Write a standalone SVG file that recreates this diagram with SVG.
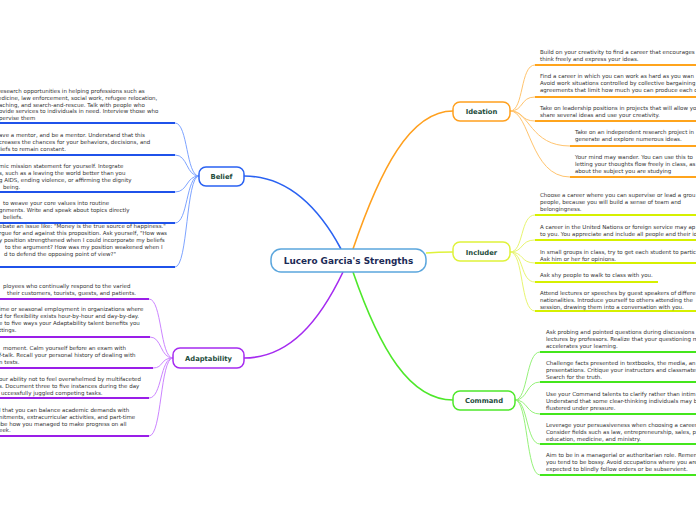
<svg xmlns="http://www.w3.org/2000/svg" width="696" height="520" viewBox="0 0 696 520">
<style>
.t{font-family:"DejaVu Sans",Verdana,sans-serif;font-size:5.5px;fill:#333}
.nl{font-family:"DejaVu Sans",Verdana,sans-serif;font-size:6.8px;font-weight:bold;fill:#1e4d3c;text-anchor:middle}
.cl{font-family:"DejaVu Sans",Verdana,sans-serif;font-size:8.9px;font-weight:bold;fill:#1b2a56;text-anchor:middle}
.n{fill:#fff;stroke-width:1.5}
.c{fill:none;stroke-width:1}
.u{fill:none;stroke-width:1.8}
.m{fill:none;stroke-width:1.6}
</style>
<rect width="696" height="520" fill="#fff"/>
<g id="connectors">
<!-- main branches -->
<path class="m" stroke="#2a62f2" d="M341,249 C320,210 290,176 244,176"/>
<path class="m" stroke="#ffa01e" d="M353,249 C380,170 410,111 453,111"/>
<path class="m" stroke="#dff23a" d="M426,253 C438,252 442,252 453,252"/>
<path class="m" stroke="#a52bf0" d="M343,272 C320,320 290,358 244,358"/>
<path class="m" stroke="#4ee82a" d="M353,272 C380,350 410,400 453,400"/>
<!-- Belief -->
<g stroke="#7ea4ff">
<path class="c" d="M199,176 C186,176 188,123 175,123"/>
<path class="c" d="M199,176 C186,176 188,155 175,155"/>
<path class="c" d="M199,176 C186,176 188,192 175,192"/>
<path class="c" d="M199,176 C186,176 188,223 175,223"/>
<path class="c" d="M199,176 C186,176 188,267 175,267"/>
</g>
<g stroke="#1f52ea">
<path class="u" d="M0,123 H175"/>
<path class="u" d="M0,155 H175"/>
<path class="u" d="M0,192 H175"/>
<path class="u" d="M0,223 H175"/>
<path class="u" d="M0,267 H175"/>
</g>
<!-- Ideation -->
<g stroke="#ffc46e">
<path class="c" d="M510,111 C524,111 520,65 535,65"/>
<path class="c" d="M510,111 C524,111 520,97 535,97"/>
<path class="c" d="M510,111 C524,111 520,121 535,121"/>
<path class="c" d="M510,111 C530,111 530,146 570,146"/>
<path class="c" d="M510,111 C530,111 530,177 570,177"/>
</g>
<g stroke="#ffa41c">
<path class="u" d="M535,65 H696"/>
<path class="u" d="M535,97 H696"/>
<path class="u" d="M535,121 H696"/>
<path class="u" d="M570,146 H696"/>
<path class="u" d="M570,177 H696"/>
</g>
<!-- Includer -->
<g stroke="#e8f570">
<path class="c" d="M510,252 C524,252 520,215 535,215"/>
<path class="c" d="M510,252 C524,252 520,240 535,240"/>
<path class="c" d="M510,252 C524,252 520,263 535,263"/>
<path class="c" d="M510,252 C524,252 520,282 535,282"/>
<path class="c" d="M510,252 C524,252 520,311 535,311"/>
</g>
<g stroke="#d6f000">
<path class="u" d="M535,215 H696"/>
<path class="u" d="M535,240 H696"/>
<path class="u" d="M535,263 H696"/>
<path class="u" d="M535,282 H658"/>
<path class="u" d="M535,311 H696"/>
</g>
<!-- Command -->
<g stroke="#96f27a">
<path class="c" d="M515,400 C528,400 526,352 540,352"/>
<path class="c" d="M515,400 C528,400 526,382 540,382"/>
<path class="c" d="M515,400 C528,400 526,414 540,414"/>
<path class="c" d="M515,400 C528,400 526,444 540,444"/>
<path class="c" d="M515,400 C528,400 526,475 540,475"/>
</g>
<g stroke="#44e61c">
<path class="u" d="M540,352 H696"/>
<path class="u" d="M540,382 H696"/>
<path class="u" d="M540,414 H696"/>
<path class="u" d="M540,444 H696"/>
<path class="u" d="M540,475 H696"/>
</g>
<!-- Adaptability -->
<g stroke="#cc85ff">
<path class="c" d="M173,358 C160,358 162,299 149,299"/>
<path class="c" d="M173,358 C160,358 162,337 150,337"/>
<path class="c" d="M173,358 C160,358 164,368 153,368"/>
<path class="c" d="M173,358 C160,358 162,398 149,398"/>
<path class="c" d="M173,358 C160,358 162,436 149,436"/>
</g>
<g stroke="#9a1ee8">
<path class="u" d="M0,299 H149"/>
<path class="u" d="M0,337 H150"/>
<path class="u" d="M0,368 H153"/>
<path class="u" d="M0,398 H149"/>
<path class="u" d="M0,436 H149"/>
</g>
</g>

<g id="center">
<rect class="n" x="271" y="249" width="155" height="23" rx="10" stroke="#5ba6dd"/>
<text class="cl" x="348.5" y="264">Lucero Garcia's Strengths</text>
</g>
<g id="belief">
<rect class="n" x="199" y="167" width="45" height="19" rx="7" stroke="#2a62f2"/>
<text class="nl" x="221.5" y="179">Belief</text>
</g>
<g id="ideation">
<rect class="n" x="453" y="102" width="57" height="19" rx="7" stroke="#ffa01e"/>
<text class="nl" x="481.5" y="114">Ideation</text>
</g>
<g id="includer">
<rect class="n" x="453" y="242" width="57" height="19" rx="7" stroke="#dff23a"/>
<text class="nl" x="481.5" y="254.5">Includer</text>
</g>
<g id="adaptability">
<rect class="n" x="173" y="348" width="71" height="20" rx="7" stroke="#a52bf0"/>
<text class="nl" x="208.5" y="360.5">Adaptability</text>
</g>
<g id="command">
<rect class="n" x="453" y="391" width="62" height="19" rx="7" stroke="#4ee82a"/>
<text class="nl" x="484" y="403">Command</text>
</g>

<!-- Belief children -->
<g id="belief-1"><text class="t"><tspan x="-2" y="93">research opportunities in helping professions such as</tspan><tspan x="-2" y="100">edicine, law enforcement, social work, refugee relocation,</tspan><tspan x="-1" y="106.5">aching, and search-and-rescue. Talk with people who</tspan><tspan x="-1" y="113">ovide services to individuals in need. Interview those who</tspan><tspan x="-1" y="119.5">pervise them</tspan></text></g>
<g id="belief-2"><text class="t"><tspan x="-1" y="137">ave a mentor, and be a mentor. Understand that this</tspan><tspan x="-1" y="144">creases the chances for your behaviors, decisions, and</tspan><tspan x="-1" y="150.5">liefs to remain constant.</tspan></text></g>
<g id="belief-3"><text class="t"><tspan x="-1" y="168">mic mission statement for yourself. Integrate</tspan><tspan x="-1" y="175">s, such as a leaving the world better than you</tspan><tspan x="-1" y="182">g AIDS, ending violence, or affirming the dignity</tspan><tspan x="3" y="188.5">being.</tspan></text></g>
<g id="belief-4"><text class="t"><tspan x="3" y="205">to weave your core values into routine</tspan><tspan x="-1" y="212">gnments. Write and speak about topics directly</tspan><tspan x="3" y="218.5">beliefs.</tspan></text></g>
<g id="belief-5"><text class="t"><tspan x="-1" y="228">ebate an issue like: "Money is the true source of happiness."</tspan><tspan x="-1" y="235">rgue for and against this proposition. Ask yourself, "How was</tspan><tspan x="-1" y="242">y position strengthened when I could incorporate my beliefs</tspan><tspan x="5" y="249">to the argument? How was my position weakened when I</tspan><tspan x="4" y="256">d to defend the opposing point of view?"</tspan></text></g>

<!-- Adaptability children -->
<g id="adapt-1"><text class="t"><tspan x="3" y="288">ployees who continually respond to the varied</tspan><tspan x="7" y="295">their customers, tourists, guests, and patients.</tspan></text></g>
<g id="adapt-2"><text class="t"><tspan x="-1" y="311">ime or seasonal employment in organizations where</tspan><tspan x="-1" y="318">d for flexibility exists hour-by-hour and day-by-day.</tspan><tspan x="-1" y="325">e to five ways your Adaptability talent benefits you</tspan><tspan x="-1" y="332">ttings.</tspan></text></g>
<g id="adapt-3"><text class="t"><tspan x="3" y="350">moment. Calm yourself before an exam with</tspan><tspan x="-1" y="357">f-talk. Recall your personal history of dealing with</tspan><tspan x="-1" y="363.5">n tests.</tspan></text></g>
<g id="adapt-4"><text class="t"><tspan x="-1" y="381">our ability not to feel overwhelmed by multifaceted</tspan><tspan x="-1" y="388">s. Document three to five instances during the day</tspan><tspan x="1" y="395">uccessfully juggled competing tasks.</tspan></text></g>
<g id="adapt-5"><text class="t"><tspan x="-1" y="412">l that you can balance academic demands with</tspan><tspan x="-1" y="419">nitments, extracurricular activities, and part-time</tspan><tspan x="-1" y="425.5">ibe how you managed to make progress on all</tspan><tspan x="-1" y="432">eek.</tspan></text></g>

<!-- Ideation children -->
<g id="idea-1"><text class="t"><tspan x="540" y="54">Build on your creativity to find a career that encourages</tspan><tspan x="540" y="61">think freely and express your ideas.</tspan></text></g>
<g id="idea-2"><text class="t"><tspan x="540" y="78">Find a career in which you can work as hard as you wan</tspan><tspan x="540" y="85">Avoid work situations controlled by collective bargaining</tspan><tspan x="540" y="92">agreements that limit how much you can produce each d</tspan></text></g>
<g id="idea-3"><text class="t"><tspan x="540" y="110">Take on leadership positions in projects that will allow yo</tspan><tspan x="540" y="117">share several ideas and use your creativity.</tspan></text></g>
<g id="idea-4"><text class="t"><tspan x="575" y="134">Take on an independent research project in</tspan><tspan x="575" y="141">generate and explore numerous ideas.</tspan></text></g>
<g id="idea-5"><text class="t"><tspan x="575" y="159">Your mind may wander. You can use this to</tspan><tspan x="575" y="166">letting your thoughts flow freely in class, as</tspan><tspan x="575" y="173">about the subject you are studying</tspan></text></g>

<!-- Includer children -->
<g id="incl-1"><text class="t"><tspan x="540" y="197">Choose a career where you can supervise or lead a grou</tspan><tspan x="540" y="204">people, because you will build a sense of team and</tspan><tspan x="540" y="211">belongingness.</tspan></text></g>
<g id="incl-2"><text class="t"><tspan x="540" y="229">A career in the United Nations or foreign service may ap</tspan><tspan x="540" y="236">to you. You appreciate and include all people and their id</tspan></text></g>
<g id="incl-3"><text class="t"><tspan x="540" y="254">In small groups in class, try to get each student to partic</tspan><tspan x="540" y="261">Ask him or her for opinions.</tspan></text></g>
<g id="incl-4"><text class="t"><tspan x="540" y="277">Ask shy people to walk to class with you.</tspan></text></g>
<g id="incl-5"><text class="t"><tspan x="540" y="295">Attend lectures or speeches by guest speakers of differe</tspan><tspan x="540" y="302">nationalities. Introduce yourself to others attending the</tspan><tspan x="540" y="309">session, drawing them into a conversation with you.</tspan></text></g>

<!-- Command children -->
<g id="cmd-1"><text class="t"><tspan x="546" y="334">Ask probing and pointed questions during discussions</tspan><tspan x="546" y="341">lectures by professors. Realize that your questioning m</tspan><tspan x="546" y="348">accelerates your learning.</tspan></text></g>
<g id="cmd-2"><text class="t"><tspan x="546" y="365">Challenge facts presented in textbooks, the media, an</tspan><tspan x="546" y="372">presentations. Critique your instructors and classmate</tspan><tspan x="546" y="379">Search for the truth.</tspan></text></g>
<g id="cmd-3"><text class="t"><tspan x="546" y="396">Use your Command talents to clarify rather than intim</tspan><tspan x="546" y="402.5">Understand that some clear-thinking individuals may b</tspan><tspan x="546" y="409.5">flustered under pressure.</tspan></text></g>
<g id="cmd-4"><text class="t"><tspan x="546" y="427">Leverage your persuasiveness when choosing a career</tspan><tspan x="546" y="434">Consider fields such as law, entrepreneurship, sales, p</tspan><tspan x="546" y="440.5">education, medicine, and ministry.</tspan></text></g>
<g id="cmd-5"><text class="t"><tspan x="546" y="457">Aim to be in a managerial or authoritarian role. Remem</tspan><tspan x="546" y="464">you tend to be bossy. Avoid occupations where you are</tspan><tspan x="546" y="471">expected to blindly follow orders or be subservient.</tspan></text></g>
</svg>
